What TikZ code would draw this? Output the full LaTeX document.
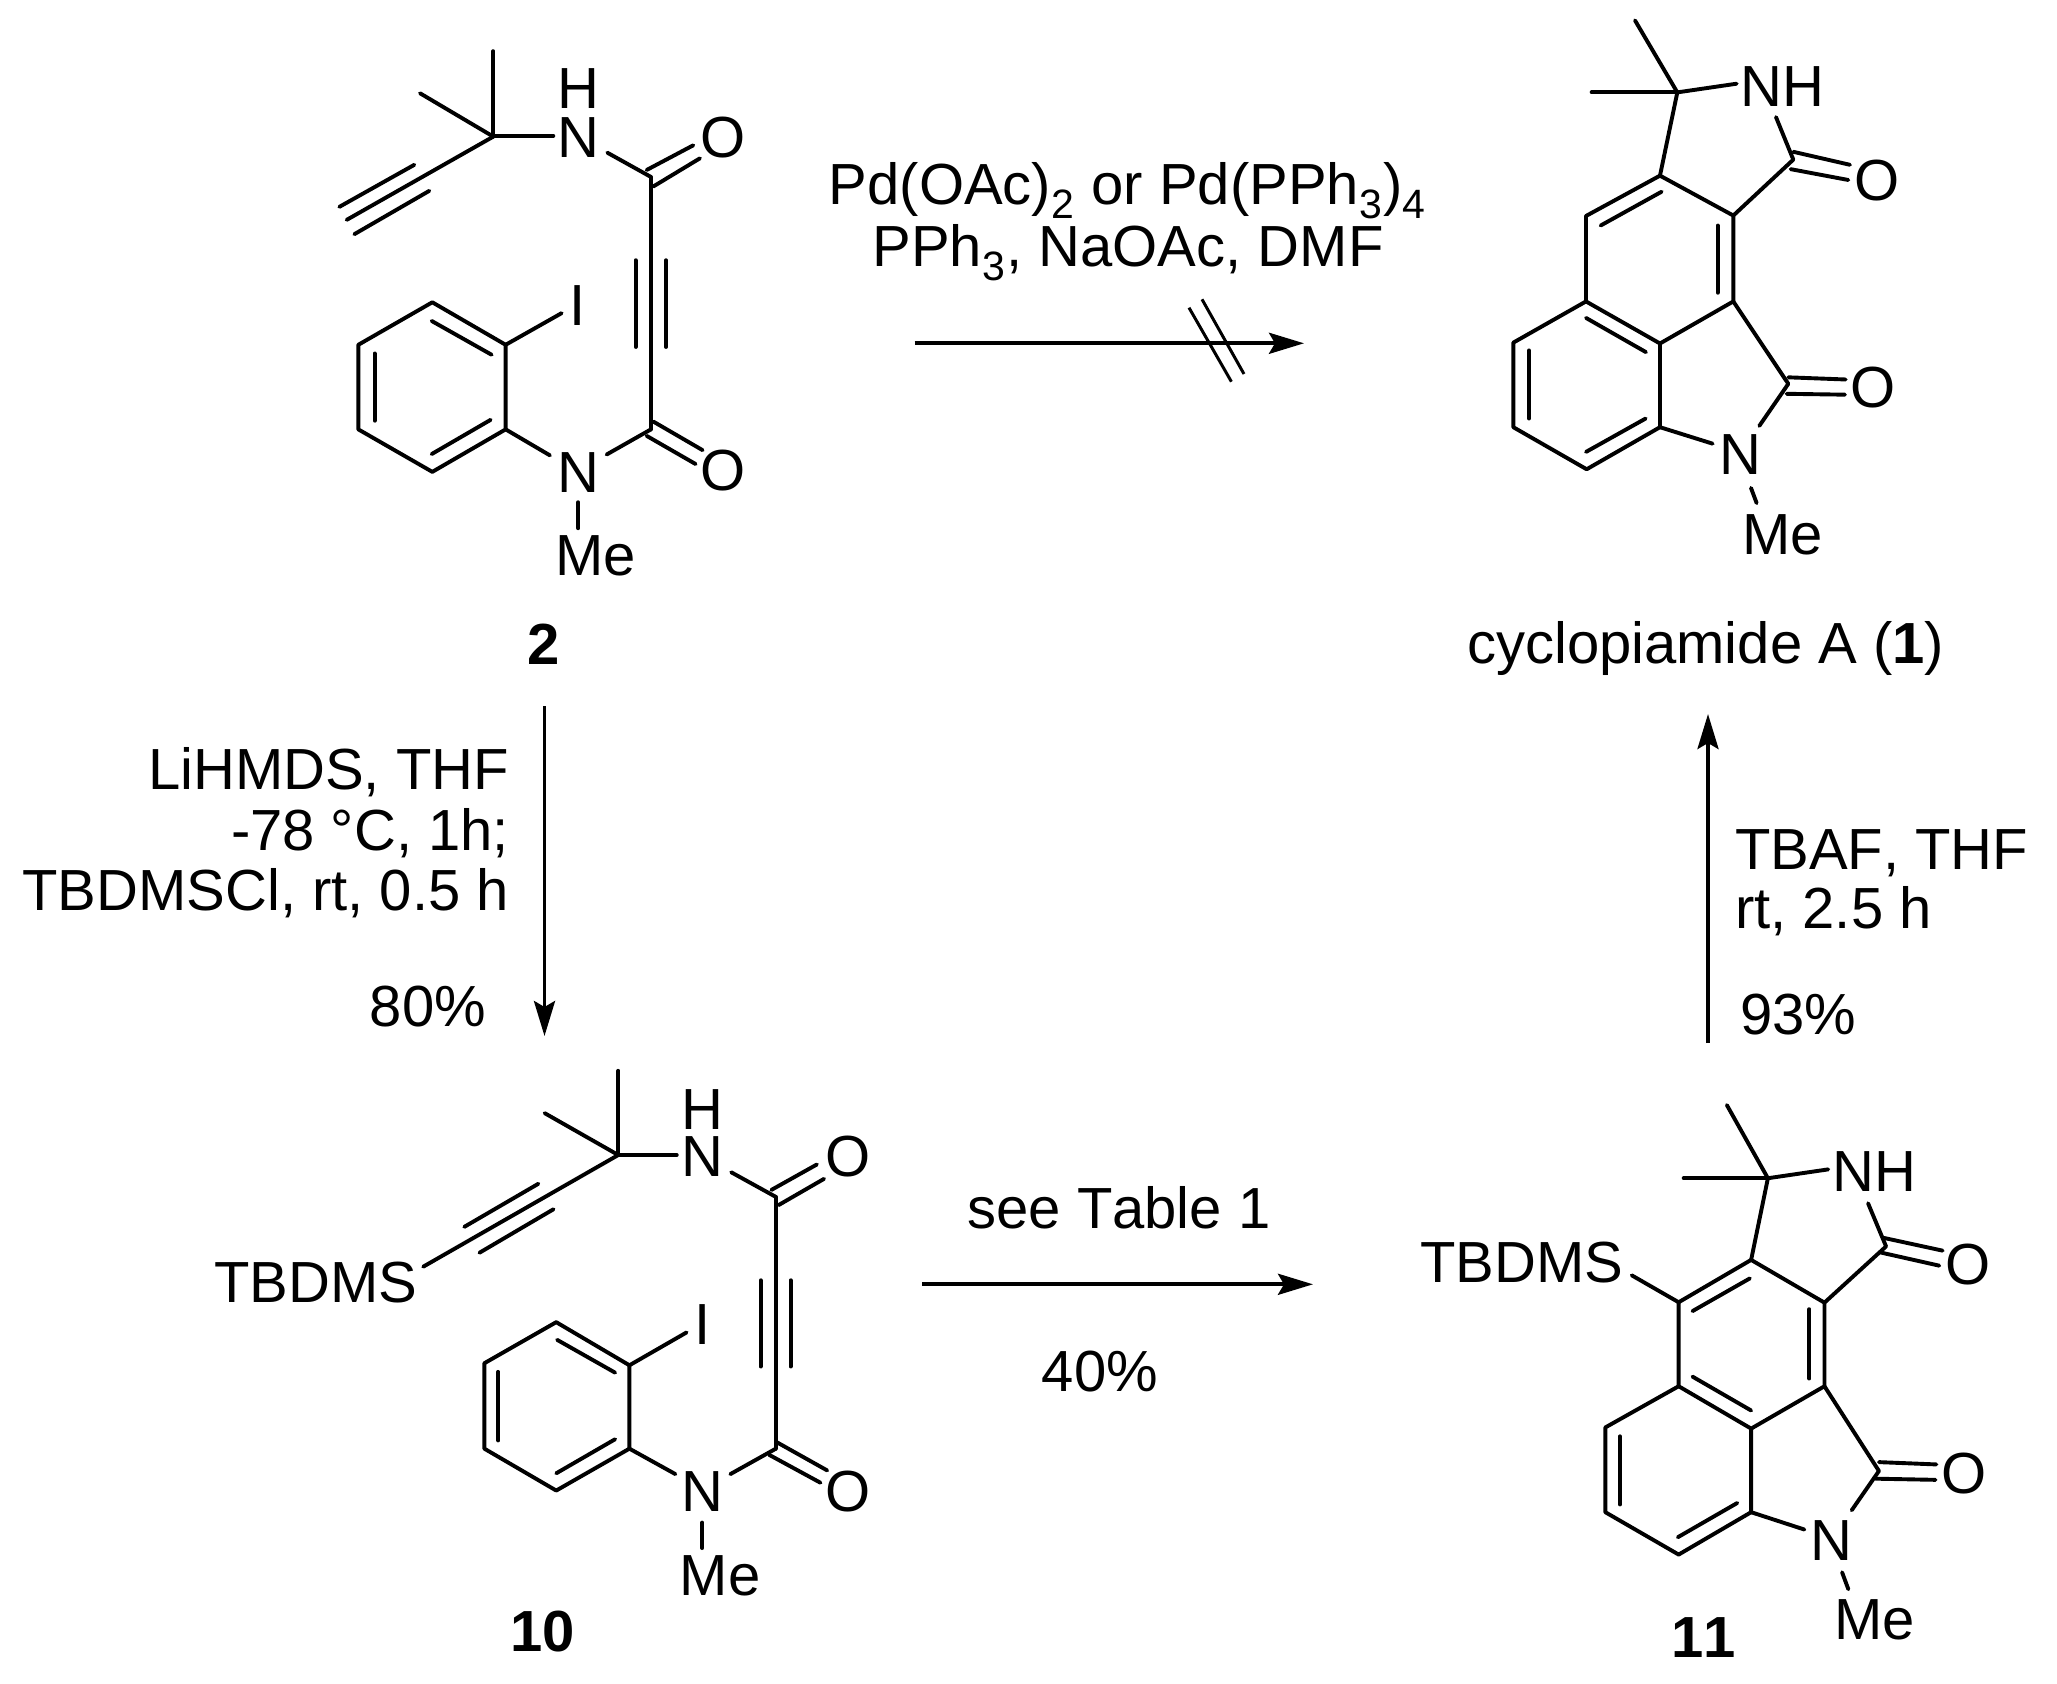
\documentclass[tikz,border=0pt]{standalone}
\usepackage{fontspec}
\setmainfont[Kerning=Off]{Liberation Sans}
\usetikzlibrary{arrows.meta}
\newcommand{\sbs}[1]{\raisebox{-14pt}{\fontsize{41}{41}\selectfont #1}\kern1.5pt\relax}
\tikzset{
  txt/.style={inner sep=0pt,outer sep=0pt,font=\fontsize{58}{63}\selectfont},
  atom/.style={txt,anchor=base},
  lbl/.style={txt,anchor=base,font=\fontsize{58}{63}\selectfont\bfseries},
  bond/.style={line width=3.9pt,line cap=round,line join=round},
  bonds/.style={every path/.style={bond}},
  rxn/.style={line width=3.9pt,-{Stealth[length=35pt,width=21pt,inset=6pt]}},
  slash/.style={line width=3pt}
}
\begin{document}
\begin{tikzpicture}[x=1pt,y=-1pt]
\useasboundingbox (0,0) rectangle (2057,1684);

% ---------- compound 2
\begin{scope}[shift={(300,0)},x=0.3333pt,y=-0.4337pt]
  \node[atom] (a2N) at (835,362) {N};
  \node[atom] (a2H) at (835,250) {H};
  \node[atom] (a2O) at (1270,362) {O};
  \node[atom] (a2I) at (832,750) {I};
  \node[atom] (a2O2) at (1270,1132) {O};
  \node[atom] (a2N2) at (835,1135) {N};
  \node[atom] (a2Me) at (887,1328) {Me};
  \node[lbl] (c2) at (730,1532) {2};
  \begin{scope}[bonds]
  \draw (580,118)--(580,315);
  \draw (360,215)--(580,315);
  \draw (580,313)--(760,313);
  \draw (580,315)--(140,507);
  \draw (343,380)--(118,477);
  \draw (388,440)--(163,540);
  \draw (922,352)--(1053,408);
  \draw (1040,392)--(1180,335);
  \draw (1060,430)--(1200,365);
  \draw (1053,408)--(1053,990);
  \draw (1007,600)--(1007,800);
  \draw (1098,600)--(1098,800);
  \draw (1060,972)--(1208,1038);
  \draw (1040,1005)--(1187,1070);
  \draw (1053,990)--(920,1048);
  \draw (617,795)--(397,697)--(175,795)--(175,990)--(397,1088)--(617,990)--cycle;
  \draw (395,740)--(575,818);
  \draw (224,815)--(224,970);
  \draw (395,1047)--(572,968);
  \draw (617,795)--(785,722);
  \draw (617,990)--(750,1050);
  \draw (835,1158)--(835,1218);
  \end{scope}
\end{scope}

% ---------- compound 1
\begin{scope}[shift={(1450,0)},x=0.3333pt,y=-0.4337pt]
  \node[atom] (a1NH) at (997,245) {NH};
  \node[atom] (a1O) at (1282,462) {O};
  \node[atom] (a1O2) at (1270,940) {O};
  \node[atom] (a1N) at (870,1095) {N};
  \node[atom] (a1Me) at (997,1278) {Me};
  \node[atom] (c1) at (767,1530) {cyclopiamide A (\textbf{1})};
  \begin{scope}[bonds]
  \draw (682,213)--(555,47);
  \draw (682,213)--(425,213);
  \draw (682,213)--(860,193);
  \draw (682,213)--(630,405);
  \draw (630,405)--(408,498)--(408,695)--(630,792)--(850,695)--(850,497)--cycle;
  \draw (452,520)--(635,442);
  \draw (803,520)--(803,675);
  \draw (408,733)--(588,812);
  \draw (408,695)--(190,790)--(190,985)--(410,1082)--(630,985)--(630,792);
  \draw (237,808)--(237,965);
  \draw (408,1042)--(587,965);
  \draw (850,497)--(1030,368)--(978,270);
  \draw (1030,350)--(1200,380);
  \draw (1022,390)--(1195,415);
  \draw (850,695)--(1015,885)--(928,982);
  \draw (1015,870)--(1187,875);
  \draw (1010,908)--(1185,910);
  \draw (630,985)--(788,1023);
  \draw (903,1125)--(920,1160);
  \end{scope}
\end{scope}

% ---------- compound 10
\begin{scope}[shift={(200,1040)},x=0.4464pt,y=-0.4107pt]
  \node[atom] (a10N) at (1125,333) {N};
  \node[atom] (a10H) at (1125,218) {H};
  \node[atom] (a10O) at (1452,333) {O};
  \node[atom] (a10T) at (259,640) {TBDMS};
  \node[atom] (a10I) at (1125,742) {I};
  \node[atom] (a10O2) at (1452,1148) {O};
  \node[atom] (a10N2) at (1125,1148) {N};
  \node[atom] (a10Me) at (1165,1353) {Me};
  \node[lbl] (c10) at (768,1490) {10};
  \begin{scope}[bonds]
  \draw (937,75)--(937,280);
  \draw (772,178)--(937,280);
  \draw (937,280)--(1068,280);
  \draw (937,280)--(500,552);
  \draw (758,350)--(592,455);
  \draw (792,412)--(626,518);
  \draw (1190,322)--(1290,382);
  \draw (1280,365)--(1382,303);
  \draw (1296,402)--(1398,338);
  \draw (1290,382)--(1290,995);
  \draw (1256,585)--(1256,795);
  \draw (1323,585)--(1323,795);
  \draw (1290,978)--(1405,1048);
  \draw (1275,1010)--(1390,1078);
  \draw (1290,995)--(1188,1057);
  \draw (962,792)--(798,687)--(637,787)--(637,995)--(798,1097)--(962,995)--cycle;
  \draw (800,730)--(930,810);
  \draw (668,808)--(668,975);
  \draw (798,1055)--(930,972);
  \draw (962,792)--(1090,712);
  \draw (962,995)--(1065,1057);
  \draw (1125,1175)--(1125,1237);
  \end{scope}
\end{scope}

% ---------- compound 11
\begin{scope}[shift={(1400,1080)},x=0.419pt,y=-0.3852pt]
  \node[atom] (a11NH) at (1133,290) {NH};
  \node[atom] (a11O) at (1355,532) {O};
  \node[atom] (a11T) at (290,525) {TBDMS};
  \node[atom] (a11O2) at (1347,1073) {O};
  \node[atom] (a11N) at (1030,1247) {N};
  \node[atom] (a11Me) at (1133,1453) {Me};
  \node[lbl] (c11) at (725,1500) {11};
  \begin{scope}[bonds]
  \draw (878,255)--(780,65);
  \draw (878,255)--(677,255);
  \draw (878,255)--(1022,232);
  \draw (878,255)--(838,467);
  \draw (838,467)--(665,577)--(665,795)--(838,905)--(1013,795)--(1013,578)--cycle;
  \draw (698,600)--(835,515);
  \draw (977,595)--(977,775);
  \draw (698,770)--(838,858);
  \draw (665,795)--(490,902)--(490,1122)--(665,1232)--(838,1122)--(838,905);
  \draw (525,925)--(525,1102);
  \draw (663,1187)--(805,1098);
  \draw (1013,578)--(1160,432)--(1117,320);
  \draw (1155,410)--(1295,443);
  \draw (1148,448)--(1287,482);
  \draw (1013,795)--(1143,1015)--(1078,1117);
  \draw (1143,992)--(1280,998);
  \draw (1135,1035)--(1278,1038);
  \draw (838,1122)--(965,1167);
  \draw (1055,1278)--(1070,1322);
  \draw (665,577)--(553,507);
  \end{scope}
\end{scope}

% ---------- reaction arrows (named ends)
\coordinate (r1s) at (914.5,343.3);  \coordinate (r1e) at (1304,343.3);
\coordinate (r2s) at (544.5,706);    \coordinate (r2e) at (544.5,1036);
\coordinate (r3s) at (922,1284.3);   \coordinate (r3e) at (1313,1284.3);
\coordinate (r4s) at (1708,1043);    \coordinate (r4e) at (1708,714);
\draw[rxn] (r1s)--(r1e);
\draw[rxn] (r2s)--(r2e);
\draw[rxn] (r3s)--(r3e);
\draw[rxn] (r4s)--(r4e);
\coordinate (s1a) at (1189,307.7); \coordinate (s1b) at (1231.4,381.7);
\coordinate (s2a) at (1202,299.3); \coordinate (s2b) at (1244,374);
\draw[slash] (s1a)--(s1b);
\draw[slash] (s2a)--(s2b);

% ---------- conditions
\node[atom] (t1a) at (1128,204) {Pd(OAc)\sbs{2} or Pd(PPh\sbs{3})\sbs{4}};
\node[atom] (t1b) at (1128,266) {PPh\sbs{3}, NaOAc, DMF};
\node[atom,anchor=base east] (t2a) at (509,789) {LiHMDS, THF};
\node[atom,anchor=base east] (t2b) at (509,850) {-78 °C, 1h;};
\node[atom,anchor=base east] (t2c) at (509,910) {TBDMSCl, rt, 0.5 h};
\node[atom] (t2d) at (428,1026) {80\%};
\node[atom] (t3a) at (1119,1228) {see Table 1};
\node[atom] (t3b) at (1100,1391) {40\%};
\node[atom,anchor=base west] (t4a) at (1735,869) {TBAF, THF};
\node[atom,anchor=base west] (t4b) at (1735,928) {rt, 2.5 h};
\node[atom,anchor=base west] (t4c) at (1740,1034) {93\%};
\end{tikzpicture}
\end{document}
